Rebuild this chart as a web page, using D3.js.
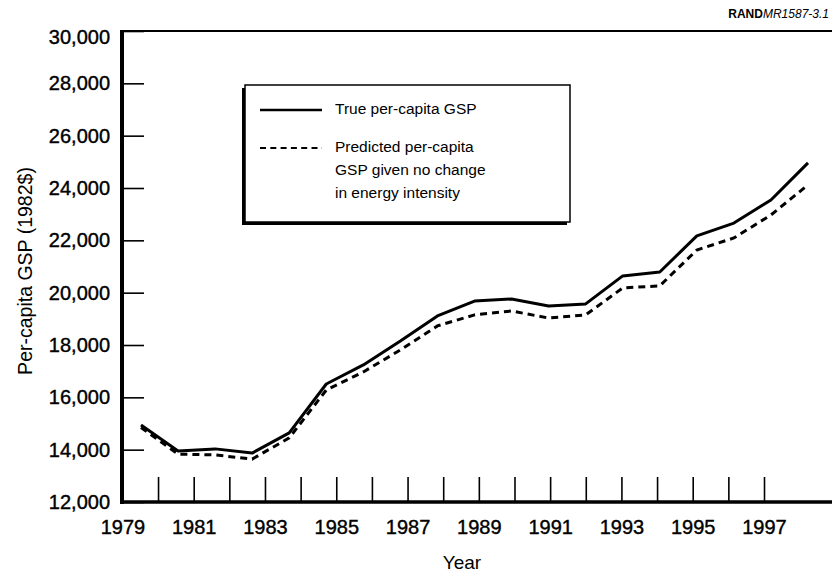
<!DOCTYPE html>
<html>
  <head>
    <meta charset="UTF-8" />
    <title>Per-capita GSP</title>
    <script src="https://d3js.org/d3.v7.min.js"></script>
    <style>
      body {
        margin: 0;
        background: #fff;
      }
      svg text {
        font-family: "Liberation Sans", Arial, Helvetica, sans-serif;
        fill: #000;
      }
    </style>
  </head>
  <body>
    <div id="chart"></div>
    <script>
      // Anos e valores
      var years = [
        1979, 1980, 1981, 1982, 1983, 1984, 1985, 1986, 1987, 1988, 1989,
        1990, 1991, 1992, 1993, 1994, 1995, 1996, 1997
      ];
      var trueGSP = [
        14940, 13950, 14030, 13870, 14640, 16510, 17240, 18150, 19110, 19680,
        19760, 19490, 19570, 20640, 20790, 22170, 22660, 23540, 24960
      ];
      var predictedGSP = [
        14850, 13830, 13800, 13640, 14450, 16280, 16970, 17810, 18730, 19150,
        19300, 19030, 19150, 20180, 20260, 21630, 22090, 22970, 24120
      ];
      var yTicks = [12000, 14000, 16000, 18000, 20000, 22000, 24000, 26000, 28000, 30000];
      var xTicks = d3.range(1979, 1998);
      var legendLabels = [
        ["True per-capita GSP"],
        ["Predicted per-capita", "GSP given no change", "in energy intensity"]
      ];

      var W = 832,
        H = 576;
      var margin = { top: 31, left: 122 },
        width = W - margin.left,
        height = 502 - margin.top;

      var svg = d3
        .select("#chart")
        .append("svg")
        .attr("width", W)
        .attr("height", H);

      var g = svg
        .append("g")
        .attr("transform", "translate(" + margin.left + "," + margin.top + ")");

      // Escalas: o eixo de anos e as linhas não têm o mesmo espaçamento no original
      var y = d3.scaleLinear().domain([12000, 30000]).range([height, 0]);
      var xAxisScale = d3.scaleLinear().domain([1979, 1997]).range([0.4, 642]);
      var x = d3.scaleLinear().domain([1979, 1997]).range([19, 686]);

      // Eixo y
      var yAxis = g
        .append("g")
        .call(
          d3
            .axisLeft(y)
            .tickValues(yTicks)
            .tickSize(-22)
            .tickPadding(12)
            .tickFormat(d3.format(","))
        );
      yAxis.select(".domain").remove();
      yAxis.selectAll(".tick line").attr("stroke", "#000").attr("stroke-width", 1.6);
      yAxis
        .selectAll(".tick text")
        .style("font-size", "20px")
        .style("stroke", "#000")
        .style("stroke-width", 0.4)
        // o rótulo do topo fica um pouco abaixo da linha no original
        .attr("y", (d) => (d === 30000 ? 6 : 0));

      // Eixo x
      var xAxis = g
        .append("g")
        .attr("transform", "translate(0," + height + ")")
        .call(
          d3
            .axisBottom(xAxisScale)
            .tickValues(xTicks)
            .tickSize(-25)
            .tickPadding(18)
            .tickFormat((d) => (d % 2 ? d : ""))
        );
      xAxis.select(".domain").remove();
      xAxis.selectAll(".tick line").attr("stroke", "#000").attr("stroke-width", 1.6);
      xAxis
        .selectAll(".tick text")
        .style("font-size", "20px")
        .style("stroke", "#000")
        .style("stroke-width", 0.4);

      // Moldura: topo, esquerda, base
      g.append("line")
        .attr("x1", 0)
        .attr("x2", width)
        .attr("y1", 0)
        .attr("y2", 0)
        .attr("stroke", "#000")
        .attr("stroke-width", 2);
      g.append("line")
        .attr("x1", 0)
        .attr("x2", 0)
        .attr("y1", -1)
        .attr("y2", height + 2)
        .attr("stroke", "#000")
        .attr("stroke-width", 4);
      g.append("line")
        .attr("x1", -2)
        .attr("x2", width)
        .attr("y1", height)
        .attr("y2", height)
        .attr("stroke", "#000")
        .attr("stroke-width", 3.5);

      // Linhas
      var line = d3
        .line()
        .x((d, i) => x(years[i]))
        .y((d) => y(d));

      g.append("path")
        .datum(predictedGSP)
        .attr("fill", "none")
        .attr("stroke", "#000")
        .attr("stroke-width", 3)
        .attr("stroke-dasharray", "7,5")
        .attr("d", line);

      g.append("path")
        .datum(trueGSP)
        .attr("fill", "none")
        .attr("stroke", "#000")
        .attr("stroke-width", 3)
        .attr("stroke-linejoin", "round")
        .attr("d", line);

      // Títulos dos eixos
      svg
        .append("text")
        .attr("transform", "translate(32,271) rotate(-90)")
        .attr("text-anchor", "middle")
        .style("font-size", "19.5px")
        .text("Per-capita GSP (1982$)");

      svg
        .append("text")
        .attr("x", 462)
        .attr("y", 569)
        .attr("text-anchor", "middle")
        .style("font-size", "19px")
        .text("Year");

      // Rótulo RAND
      var rand = svg
        .append("text")
        .attr("x", 829)
        .attr("y", 18)
        .attr("text-anchor", "end")
        .style("font-size", "12px");
      rand.append("tspan").style("font-weight", "bold").text("RAND");
      rand.append("tspan").style("font-style", "italic").text("MR1587-3.1");

      // Legenda
      var legend = svg.append("g").attr("transform", "translate(245,85)");
      legend
        .append("rect")
        .attr("x", -3)
        .attr("y", 3)
        .attr("width", 325)
        .attr("height", 137)
        .attr("fill", "#000");
      legend
        .append("rect")
        .attr("width", 325)
        .attr("height", 137)
        .attr("fill", "#fff")
        .attr("stroke", "#000")
        .attr("stroke-width", 1.5);

      var rowY = [25, 63];
      legendLabels.forEach((lines, i) => {
        legend
          .append("line")
          .attr("x1", 15)
          .attr("x2", 77)
          .attr("y1", rowY[i])
          .attr("y2", rowY[i])
          .attr("stroke", "#000")
          .attr("stroke-width", i ? 2.2 : 2.5)
          .attr("stroke-dasharray", i ? "6,4.3" : null);

        var t = legend
          .append("text")
          .attr("x", 90)
          .attr("y", rowY[i] + 4)
          .style("font-size", "15.5px");
        lines.forEach((s, j) => {
          t.append("tspan")
            .attr("x", 90)
            .attr("dy", j ? 23 : 0)
            .text(s);
        });
      });
    </script>
  </body>
</html>
